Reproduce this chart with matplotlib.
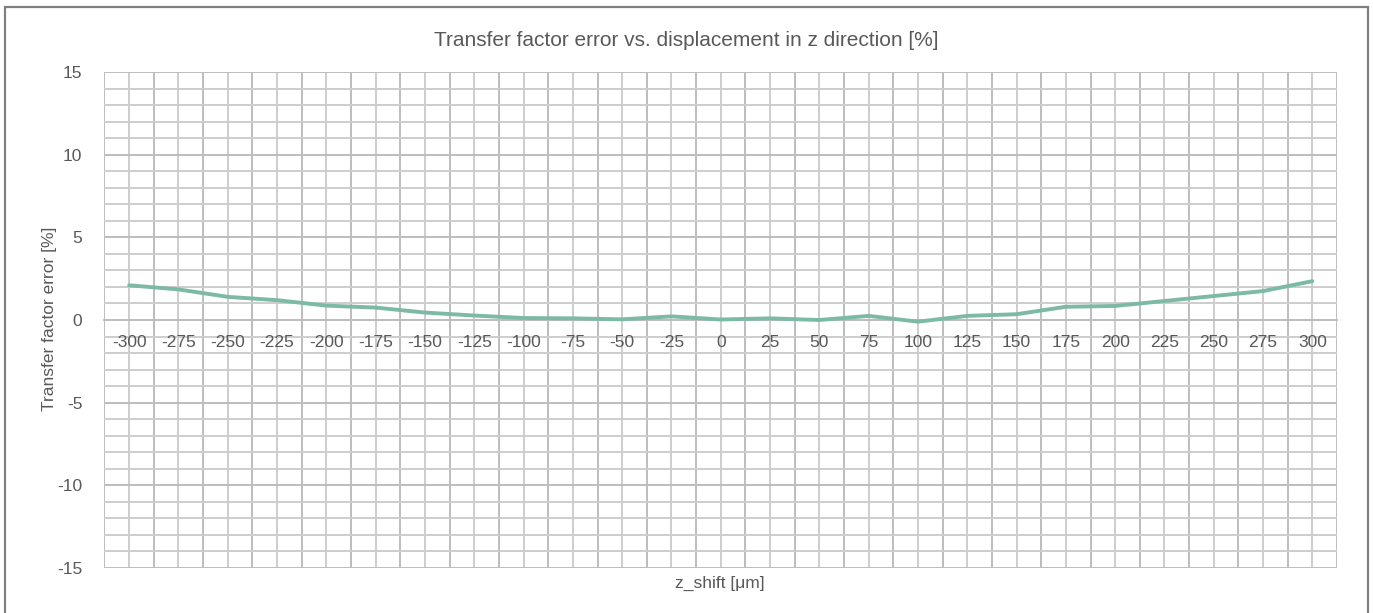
import matplotlib

matplotlib.use("Agg")
import matplotlib.pyplot as plt
from matplotlib.patches import Rectangle
import numpy as np

plt.rcParams["font.family"] = ["Liberation Sans", "DejaVu Sans"]
plt.rcParams["axes.unicode_minus"] = False

TEXT = "#595959"
GRID_MAJOR = "#bdbdbd"
GRID_MINOR = "#cdcdcd"
LINE = "#7dbaa5"

z_shift = [-300, -275, -250, -225, -200, -175, -150, -125, -100, -75, -50, -25,
           0, 25, 50, 75, 100, 125, 150, 175, 200, 225, 250, 275, 300]
tf_error = [2.1, 1.85, 1.4, 1.2, 0.87, 0.75, 0.45, 0.27, 0.12, 0.1, 0.04, 0.22,
            0.03, 0.1, 0.0, 0.25, -0.1, 0.25, 0.35, 0.8, 0.85, 1.15, 1.45, 1.75, 2.35]

fig = plt.figure(figsize=(13.73, 6.13), dpi=100)
# chart border (bottom edge runs off the image)
fig.patches.append(Rectangle((5 / 1373, -0.05), 1363 / 1373, 1.05 - 7 / 613,
                             transform=fig.transFigure, fill=False,
                             edgecolor="#808080", lw=1.6))

ax = fig.add_axes([104.5 / 1373, 1 - 568 / 613, 1232.5 / 1373, 496 / 613])
x = np.arange(len(z_shift))
ax.plot(x, tf_error, color=LINE, lw=2.8, solid_capstyle="round", zorder=3)

ax.set_xlim(-0.5, len(z_shift) - 0.5)
ax.set_ylim(-15, 15)

# gridlines: category boundaries + centres, y major 5 / minor 1
for xv in np.arange(-0.5, len(z_shift), 0.5):
    ax.axvline(xv, color=GRID_MAJOR if xv % 1 else GRID_MINOR, lw=1.4, zorder=1)
for yv in range(-15, 16):
    ax.axhline(yv, color=GRID_MAJOR if yv % 5 == 0 else GRID_MINOR, lw=1.4, zorder=1)

ax.set_yticks(range(-15, 16, 5))
ax.set_xticks(x)
ax.set_xticklabels([str(v) for v in z_shift])
ax.tick_params(axis="both", length=0, colors=TEXT, labelsize=12.5)
ax.tick_params(axis="y", pad=16)
ax.tick_params(axis="x", pad=11)

for side in ["top", "right", "left"]:
    ax.spines[side].set_visible(False)
ax.spines["bottom"].set_position(("data", 0))
ax.spines["bottom"].set_color(GRID_MAJOR)
ax.spines["bottom"].set_linewidth(1.4)

fig.text(686 / 1373, 1 - 40 / 613, "Transfer factor error vs. displacement in z direction [%]",
         ha="center", va="center", color=TEXT, fontsize=15)
fig.text(720 / 1373, 1 - 583 / 613, "z_shift [μm]", ha="center", va="center",
         color=TEXT, fontsize=12.5)
fig.text(50 / 1373, 1 - 319 / 613, "Transfer factor error [%]", ha="center", va="center",
         rotation=90, color=TEXT, fontsize=12.5)

fig.savefig("out.png", dpi=100)
